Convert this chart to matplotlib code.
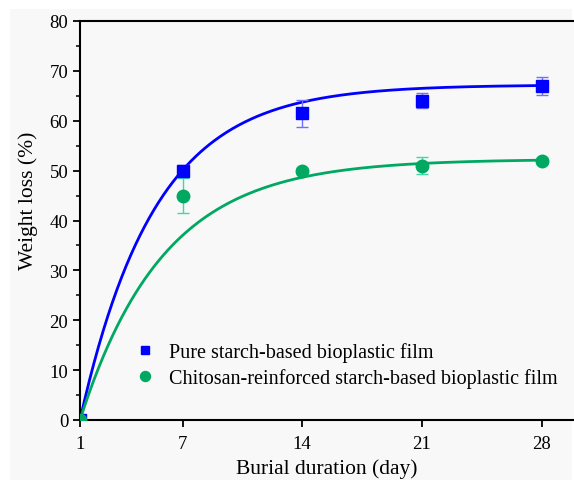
import numpy as np
import matplotlib
matplotlib.use("Agg")
import matplotlib.pyplot as plt
from matplotlib.patches import Rectangle
from matplotlib.ticker import MultipleLocator

# Data
days = [1, 7, 14, 21, 28]
pure = [0, 50, 61.5, 64, 67]
pure_err = [0, 1.2, 2.7, 1.5, 1.8]
chit = [0, 45, 50, 51, 52]
chit_err = [0, 3.5, 0.6, 1.7, 0.6]
# Exponential fit parameters y = A*(1-exp(-k*(t-1)))
pure_fit = (67.2, 0.228)
chit_fit = (52.3, 0.205)
xticks = [1, 7, 14, 21, 28]
labels = ["Pure starch-based bioplastic film",
          "Chitosan-reinforced starch-based bioplastic film"]

plt.rcParams['font.family'] = ['Liberation Serif', 'DejaVu Serif']
plt.rcParams['mathtext.fontset'] = 'stix'

fig = plt.figure(figsize=(5.74, 4.81), dpi=100, facecolor='white')
fig.patches.append(Rectangle((10/574, 0), 1 - 12/574, 1 - 10/481,
                             transform=fig.transFigure, facecolor='#f8f8f8',
                             edgecolor='none', zorder=-10))
ax = fig.add_axes([80/574, 1 - 421/481, 1 - 80/574, (421 - 22)/481])
ax.set_facecolor('#f8f8f8')

blue = '#0000ff'
green = '#00a862'

t = np.linspace(1, 28, 300)
A, k = pure_fit
ax.plot(t, A * (1 - np.exp(-k * (t - 1))), color=blue, lw=2.0, zorder=2)
A, k = chit_fit
ax.plot(t, A * (1 - np.exp(-k * (t - 1))), color=green, lw=2.0, zorder=2)

ax.errorbar(days, pure, yerr=pure_err, fmt='none', ecolor='#6f6fff',
            elinewidth=1.0, capsize=4, capthick=1.0, zorder=3)
ax.errorbar(days, chit, yerr=chit_err, fmt='none', ecolor='#40d8a8',
            elinewidth=1.0, capsize=4, capthick=1.0, zorder=3)
ax.plot(days, pure, 's', color=blue, ms=8, ls='none', zorder=4, label=labels[0])
ax.plot(days, chit, 'o', color=green, ms=9, ls='none', zorder=5, label=labels[1])

ax.set_xlim(1, 29.9)
ax.set_ylim(0, 80)
ax.set_xticks(xticks)
ax.yaxis.set_major_locator(MultipleLocator(10))
ax.yaxis.set_minor_locator(MultipleLocator(5))
ax.tick_params(axis='both', which='major', direction='out', length=5, width=1.3,
               labelsize=13.5, colors='black')
ax.tick_params(axis='y', which='minor', direction='out', length=3, width=1.1)
ax.tick_params(axis='x', pad=6)
for s in ['left', 'bottom', 'top']:
    ax.spines[s].set_linewidth(1.5)
ax.spines['right'].set_visible(False)

ax.set_xlabel('Burial duration (day)', fontsize=15.5, labelpad=4)
ax.set_ylabel('Weight loss (%)', fontsize=15.5)
ax.yaxis.set_label_coords(-0.085, 0.551)

leg = ax.legend(loc='lower left', bbox_to_anchor=(0.09, 0.06), frameon=False,
                fontsize=14.5, handletextpad=0.6, labelspacing=0.28,
                handlelength=1.2, markerscale=0.8, borderaxespad=0)

fig.savefig('out.png', dpi=100, facecolor=fig.get_facecolor())
